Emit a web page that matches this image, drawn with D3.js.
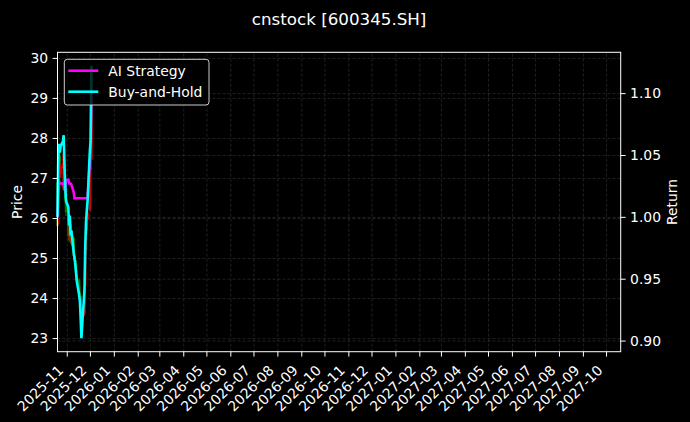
<!DOCTYPE html>
<html>
<head>
<meta charset="utf-8">
<script src="https://cdn.jsdelivr.net/npm/d3@7"></script>
<style>
  body { margin: 0; background: #000; }
  svg { display: block; font-family: "DejaVu Sans", sans-serif; }
  .grid line { stroke: #8a8a8a; stroke-opacity: 0.4; stroke-dasharray: 3,2; stroke-width: 0.6; }
  .grid path { stroke-width: 0; }
  .axis path { stroke: none; }
  .axis line { stroke: #fff; }
  .axis text { fill: #fff; font-size: 13.9px; font-family: "DejaVu Sans", sans-serif; }
</style>
</head>
<body>
<div id="chart"></div>
<script>
// trading days shown in the chart
const dates = [
  "2025-10-20","2025-10-21","2025-10-22","2025-10-23","2025-10-24",
  "2025-10-27","2025-10-28","2025-10-29","2025-10-30","2025-10-31",
  "2025-11-03","2025-11-04","2025-11-05","2025-11-06","2025-11-07",
  "2025-11-10","2025-11-11","2025-11-12","2025-11-13","2025-11-14",
  "2025-11-17","2025-11-18","2025-11-19","2025-11-20","2025-11-21",
  "2025-11-24","2025-11-25","2025-11-26","2025-11-27","2025-11-28",
  "2025-12-01","2025-12-02","2025-12-03"
];
const open = [
  26.90, 25.85, 27.00, 27.55, 27.10,
  27.25, 27.40, 27.45, 26.85, 26.45,
  25.55, 26.00, 25.55, 25.85, 25.40,
  25.50, 25.05, 24.95, 24.85, 24.60,
  24.45, 24.15, 24.05, 23.70, 23.30,
  23.60, 24.30, 25.20, 25.70, 25.95,
  26.20, 27.20, 27.45
];
const high = [
  27.00, 27.10, 27.45, 27.60, 27.35,
  27.60, 27.95, 27.55, 26.95, 26.60,
  26.30, 26.05, 25.95, 25.90, 25.70,
  25.55, 25.15, 25.05, 24.95, 24.70,
  24.50, 24.30, 24.10, 23.75, 23.65,
  24.40, 25.30, 25.85, 26.10, 26.30,
  27.40, 27.80, 29.80
];
const low = [
  25.70, 25.80, 26.90, 26.75, 27.00,
  26.70, 27.30, 26.80, 26.35, 26.05,
  25.45, 25.40, 25.50, 25.35, 25.30,
  24.95, 24.85, 24.75, 24.55, 24.40,
  24.10, 23.95, 23.60, 23.00, 23.20,
  23.55, 24.25, 25.10, 25.60, 25.85,
  26.15, 27.05, 27.40
];
const close = [
  25.80, 27.01, 27.32, 27.14, 27.27,
  27.37, 27.50, 26.88, 26.47, 26.14,
  26.01, 25.62, 25.83, 25.41, 25.52,
  25.05, 24.95, 24.82, 24.64, 24.46,
  24.17, 24.05, 23.68, 23.27, 23.56,
  24.28, 25.21, 25.70, 25.93, 26.14,
  27.19, 27.40, 28.95
];
const aiStrategy = [
  1.000, 1.018, 1.028, 1.027, 1.027,
  1.027, 1.027, 1.022, 1.021, 1.030,
  1.030, 1.027, 1.027, 1.027, 1.026,
  1.020, 1.015, 1.015, 1.015, 1.015,
  1.015, 1.015, 1.015, 1.015, 1.015,
  1.015, 1.015, 1.015, 1.015, 1.015,
  1.045, 1.052, 1.108
];
const buyHold = [
  1.000, 1.047, 1.059, 1.052, 1.057,
  1.061, 1.066, 1.042, 1.026, 1.013,
  1.008, 0.993, 1.001, 0.985, 0.989,
  0.971, 0.967, 0.962, 0.955, 0.948,
  0.937, 0.932, 0.918, 0.902, 0.913,
  0.941, 0.977, 0.996, 1.005, 1.013,
  1.054, 1.062, 1.122
];
const priceTicks = [23, 24, 25, 26, 27, 28, 29, 30];
const returnTicks = [0.90, 0.95, 1.00, 1.05, 1.10];
const xRange = ["2025-10-20", "2027-10-20"];

const width = 690, height = 422;
const margin = {top: 52.3, right: 69.3, bottom: 70.3, left: 57.5};
const innerW = width - margin.left - margin.right;
const innerH = height - margin.top - margin.bottom;

const parse = d3.utcParse("%Y-%m-%d");
const data = dates.map((d, i) => ({
  date: parse(d), open: open[i], high: high[i], low: low[i], close: close[i],
  ai: aiStrategy[i], bh: buyHold[i]
}));

// matplotlib style 5% margins
function padded(lo, hi) {
  const p = (hi - lo) * 0.05;
  return [lo - p, hi + p];
}

const xScale = d3.scaleUtc()
  .domain(xRange.map(parse))
  .range([0, innerW]);

const yPrice = d3.scaleLinear()
  .domain(padded(d3.min(low), d3.max(high)))
  .range([innerH, 0]);

const yReturn = d3.scaleLinear()
  .domain(padded(d3.min(aiStrategy.concat(buyHold)), d3.max(aiStrategy.concat(buyHold))))
  .range([innerH, 0]);

const svg = d3.select("#chart").append("svg")
  .attr("width", width)
  .attr("height", height)
  .style("background", "#000");

svg.append("text")
  .attr("x", margin.left + innerW / 2)
  .attr("y", 25)
  .attr("text-anchor", "middle")
  .attr("fill", "#fff")
  .style("font-size", "16.7px")
  .text("cnstock [600345.SH]");

const chart = svg.append("g")
  .attr("transform", `translate(${margin.left},${margin.top})`);

const monthTicks = d3.utcMonth.every(1);

// grid
chart.append("g")
  .attr("class", "grid")
  .attr("transform", `translate(0,${innerH})`)
  .call(d3.axisBottom(xScale).ticks(monthTicks).tickSize(-innerH).tickFormat(""));
chart.append("g")
  .attr("class", "grid")
  .call(d3.axisLeft(yPrice).tickValues(priceTicks).tickSize(-innerW).tickFormat(""));
chart.append("g")
  .attr("class", "grid")
  .call(d3.axisLeft(yReturn).tickValues(returnTicks).tickSize(-innerW).tickFormat(""));

// candles (red up, green down)
const candles = chart.append("g")
  .selectAll("g")
  .data(data)
  .join("g")
  .attr("transform", d => `translate(${xScale(d.date)},0)`);
candles.append("line")
  .attr("y1", d => yPrice(d.high))
  .attr("y2", d => yPrice(d.low))
  .attr("stroke", d => d.close >= d.open ? "#d40000" : "#008000")
  .attr("stroke-width", 1);
candles.append("rect")
  .attr("x", -1.2)
  .attr("width", 2.4)
  .attr("y", d => yPrice(Math.max(d.open, d.close)))
  .attr("height", d => Math.max(0.8, Math.abs(yPrice(d.open) - yPrice(d.close))))
  .attr("fill", d => d.close >= d.open ? "#d40000" : "#008000");

const aiLine = d3.line()
  .x(d => xScale(d.date))
  .y(d => yReturn(d.ai));
const bhLine = d3.line()
  .x(d => xScale(d.date))
  .y(d => yReturn(d.bh));

chart.append("path")
  .datum(data)
  .attr("d", aiLine)
  .attr("fill", "none")
  .attr("stroke", "#ff00ff")
  .attr("stroke-width", 2.6);

chart.append("path")
  .datum(data)
  .attr("d", bhLine)
  .attr("fill", "none")
  .attr("stroke", "#00ffff")
  .attr("stroke-width", 2.6);

// axes
const xAxis = chart.append("g")
  .attr("class", "axis")
  .attr("transform", `translate(0,${innerH})`)
  .call(d3.axisBottom(xScale).ticks(monthTicks).tickSize(4.9).tickFormat(d3.utcFormat("%Y-%m")));
xAxis.selectAll("text")
  .attr("y", null)
  .attr("dy", null)
  .attr("text-anchor", "end")
  .attr("transform", "translate(-3,19.5) rotate(-45)");

chart.append("g")
  .attr("class", "axis")
  .call(d3.axisLeft(yPrice).tickValues(priceTicks).tickSize(4.9).tickPadding(4.5).tickFormat(d3.format("d")));

chart.append("g")
  .attr("class", "axis")
  .attr("transform", `translate(${innerW},0)`)
  .call(d3.axisRight(yReturn).tickValues(returnTicks).tickSize(4.9).tickPadding(4.5).tickFormat(d3.format(".2f")));

chart.append("rect")
  .attr("width", innerW)
  .attr("height", innerH)
  .attr("fill", "none")
  .attr("stroke", "#fff")
  .attr("stroke-width", 1);

// axis titles
svg.append("text")
  .attr("transform", `translate(22,${margin.top + innerH / 2}) rotate(-90)`)
  .attr("text-anchor", "middle")
  .attr("fill", "#fff")
  .style("font-size", "13.9px")
  .text("Price");
svg.append("text")
  .attr("transform", `translate(677,${margin.top + innerH / 2}) rotate(-90)`)
  .attr("text-anchor", "middle")
  .attr("fill", "#fff")
  .style("font-size", "13.9px")
  .text("Return");

// legend
const legendItems = [
  {label: "AI Strategy", color: "#ff00ff"},
  {label: "Buy-and-Hold", color: "#00ffff"}
];
const legend = chart.append("g")
  .attr("transform", "translate(6.8,7)");
legend.append("rect")
  .attr("width", 144.7)
  .attr("height", 45.7)
  .attr("rx", 3)
  .attr("fill", "#000")
  .attr("fill-opacity", 0.8)
  .attr("stroke", "#cccccc")
  .attr("stroke-width", 1);
const rows = legend.selectAll("g.item")
  .data(legendItems)
  .join("g")
  .attr("class", "item")
  .attr("transform", (d, i) => `translate(0,${11.4 + i * 21})`);
rows.append("line")
  .attr("x1", 4)
  .attr("x2", 34)
  .attr("stroke", d => d.color)
  .attr("stroke-width", 2.6);
rows.append("text")
  .attr("x", 44)
  .attr("y", 5)
  .attr("fill", "#fff")
  .style("font-size", "13.9px")
  .text(d => d.label);
</script>
</body>
</html>
